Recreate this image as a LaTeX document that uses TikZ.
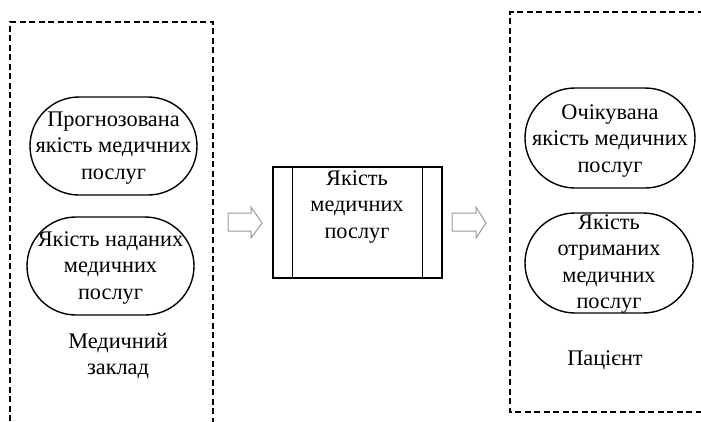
\documentclass[tikz,border=0pt]{standalone}
\usepackage{fontspec}
\setmainfont{Liberation Serif}
\usetikzlibrary{shapes.misc}
\begin{document}
\begin{tikzpicture}[x=1pt,y=-1pt,
  stad/.style={draw,line width=1.4pt,rounded rectangle,minimum width=167pt,minimum height=98pt,inner sep=0pt},
  txt/.style={align=center,font=\fontsize{22.3}{26.5}\selectfont,inner sep=0pt},
  zone/.style={draw,line width=1.4pt,dash pattern=on 6pt off 3.5pt},
  blockarrow/.style={draw=gray!80,line width=1pt,fill=white}]
\useasboundingbox (0,0) rectangle (701,421);
\begin{scope}
\clip (0,0) rectangle (701,421);
\draw[zone] (10,440) -- (10,22) -- (213,22) -- (213,440);
\draw[zone] (730,412) -- (510,412) -- (510,12) -- (730,12);
\end{scope}
% left zone
\node[stad] (e1) at (113.5,146) {};
\node[txt] (t1) at (113.5,148) {Прогнозована\\якість медичних\\послуг};
\node[stad] (e2) at (110.5,266) {};
\node[txt] (t2) at (110.5,268) {Якість наданих\\медичних\\послуг};
\node[txt] (lz) at (118,356) {Медичний\\заклад};
% right zone
\node[stad,minimum width=170pt,minimum height=100pt] (e3) at (610,138) {};
\node[txt] (t3) at (610,141) {Очікувана\\якість медичних\\послуг};
\node[stad,minimum width=168pt,minimum height=100pt] (e4) at (609,263) {};
\node[txt] (t4) at (609,264) {Якість\\отриманих\\медичних\\послуг};
\node[txt] (rz) at (605,360) {Пацієнт};
% centre process box
\node[draw,line width=1.4pt,minimum width=169pt,minimum height=111pt,inner sep=0pt] (pb) at (357.5,222.5) {};
\draw[line width=1.4pt] ([xshift=20pt]pb.north west) -- ([xshift=20pt]pb.south west);
\draw[line width=1.4pt] ([xshift=-20pt]pb.north east) -- ([xshift=-20pt]pb.south east);
\node[txt] (tp) at (357,207) {Якість\\медичних\\послуг};
% block arrows
\draw[blockarrow] (228,213) -- (251,213) -- (251,207) -- (262,223) -- (251,238) -- (251,231) -- (228,231) -- cycle;
\draw[blockarrow] (452,213) -- (476,213) -- (476,207) -- (486,223) -- (476,238) -- (476,231) -- (452,231) -- cycle;
\end{tikzpicture}
\end{document}
